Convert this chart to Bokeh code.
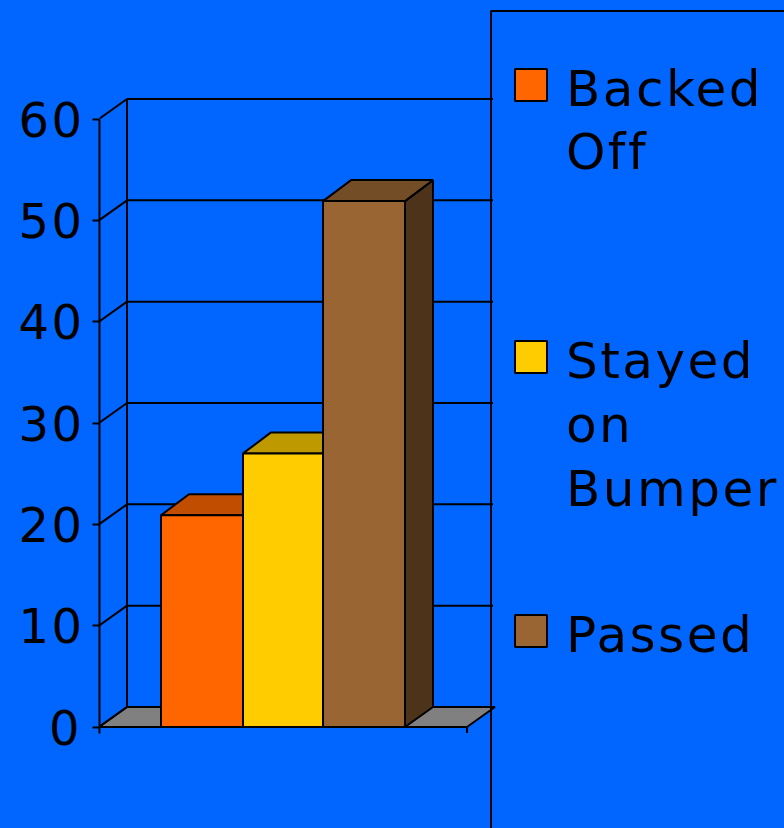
from bokeh.plotting import figure
from bokeh.models import FixedTicker
from bokeh.core.properties import value as fixed
from bokeh.embed import file_html
from bokeh.resources import INLINE

# data
categories = ["Backed Off", "Stayed on Bumper", "Passed"]
values = [20.9, 27, 51.9]
tick_values = [0, 10, 20, 30, 40, 50, 60]
legend_lines = [["Backed", "Off"], ["Stayed", "on", "Bumper"], ["Passed"]]

# colours
BG = "#0066FF"
FRONT = ["#FF6600", "#FFCC00", "#996633"]
TOP = ["#C04D00", "#BF9900", "#734D26"]
SIDE = ["#803300", "#806600", "#4D3319"]

# layout (pixels)
W, H = 784, 828
AXIS_X = 99
ZERO_PX = 726.5
PX_PER_UNIT = (726.5 - 118.5) / 60
DX = 28
DY = 20 / PX_PER_UNIT
BAR_DY = 21 / PX_PER_UNIT
BAR_EDGES = [161, 243, 323, 405]
FLOOR_RIGHT = 467
GRID_RIGHT = 493
FLOOR_BACK_RIGHT = 495
LEGEND_X = 491
LEGEND_TOP_PX = 10.5
SWATCH_TOPS = [68.5, 340.5, 614.5]
TEXT_BASELINES = [[105, 168], [377, 441, 505], [651]]
TEXT_SHIFT = -17


def py(px):
    return (ZERO_PX - px) / PX_PER_UNIT


p = figure(width=W, height=H, output_backend="svg", toolbar_location=None,
           x_range=(AXIS_X + 0.5, W + 0.5), y_range=(py(H), py(0)),
           min_border_left=AXIS_X, min_border_right=0, min_border_top=0, min_border_bottom=0,
           background_fill_color=None, border_fill_color=None, outline_line_color=None,
           x_axis_location=None)
p.styles = {"position": "absolute", "left": "0", "top": "0", "letter-spacing": "2.5px",
            "background-color": BG}
p.grid.visible = False

yax = p.yaxis[0]
yax.ticker = FixedTicker(ticks=tick_values)
yax.bounds = (-6 / PX_PER_UNIT, 60)
yax.axis_line_color = "black"
yax.axis_line_width = 2
yax.major_tick_line_color = "black"
yax.major_tick_line_width = 2
yax.major_tick_out = 7
yax.major_tick_in = 0
yax.minor_tick_line_color = None
yax.major_label_text_font = "DejaVu Sans"
yax.major_label_text_font_size = "48px"
yax.major_label_text_color = "black"
yax.major_label_standoff = 13

LW = 2
# floor
p.patch([AXIS_X, FLOOR_RIGHT, FLOOR_BACK_RIGHT, AXIS_X + DX], [0, 0, DY, DY],
        fill_color="#808080", line_color="black", line_width=LW)
# walls
for v in tick_values:
    p.line([AXIS_X, AXIS_X + DX], [v, v + DY], line_color="black", line_width=LW)
    p.line([AXIS_X + DX, GRID_RIGHT], [v + DY, v + DY], line_color="black", line_width=LW)
p.line([AXIS_X + DX, AXIS_X + DX], [DY, tick_values[-1] + DY], line_color="black", line_width=LW)

# bars
for i, v in enumerate(values):
    l, r = BAR_EDGES[i], BAR_EDGES[i + 1]
    p.patch([r, r + DX, r + DX, r], [0, DY, v + BAR_DY, v],
            fill_color=SIDE[i], line_color="black", line_width=2)
    p.patch([l, r, r + DX, l + DX], [v, v, v + BAR_DY, v + BAR_DY],
            fill_color=TOP[i], line_color="black", line_width=2)
    p.quad(left=[l], right=[r], bottom=[0], top=[v],
           fill_color=FRONT[i], line_color="black", line_width=2)

# baseline and tick at right end
p.line([AXIS_X, FLOOR_RIGHT], [0, 0], line_color="black", line_width=2)
p.line([FLOOR_RIGHT, FLOOR_RIGHT], [0, -6 / PX_PER_UNIT], line_color="black", line_width=2)

# legend box
p.line([W + 5, LEGEND_X, LEGEND_X], [py(LEGEND_TOP_PX), py(LEGEND_TOP_PX), py(H + 5)],
       line_color="black", line_width=2)

# legend entries
for i, lines in enumerate(legend_lines):
    t = SWATCH_TOPS[i]
    p.quad(left=[515], right=[547], top=[py(t)], bottom=[py(t + 32)],
           fill_color=FRONT[i], line_color="black", line_width=2)
    for line, base in zip(lines, TEXT_BASELINES[i]):
        p.text([566], [py(base + TEXT_SHIFT)], text=[line], text_font=fixed("DejaVu Sans"),
               text_font_size=fixed("50px"), text_color="black",
               text_baseline="alphabetic", text_align="left")

open("out.html", "w").write(file_html(p, INLINE))
